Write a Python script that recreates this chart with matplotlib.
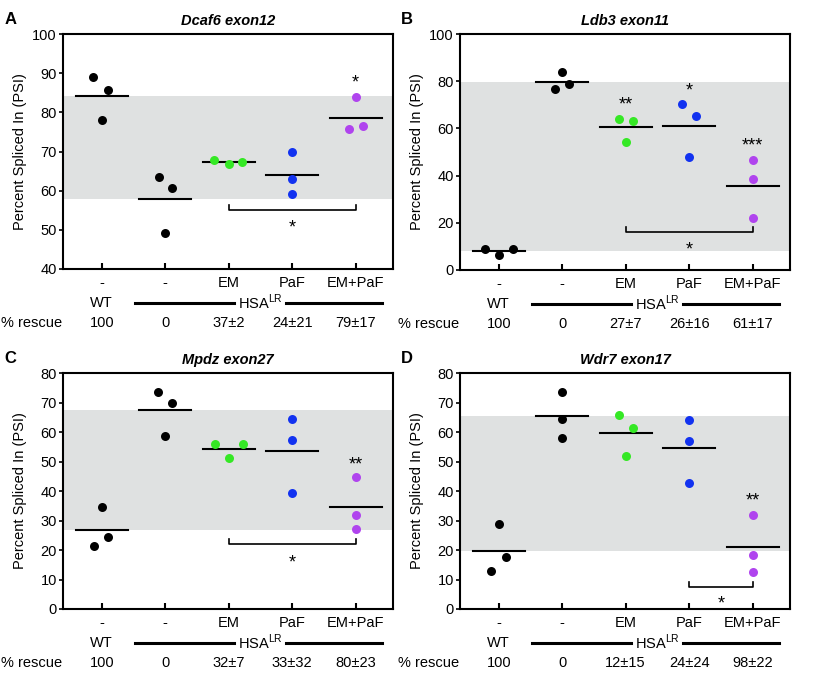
import matplotlib
matplotlib.use("Agg")
import matplotlib.pyplot as plt
import matplotlib.transforms as mtransforms
import numpy as np

plt.rcParams['font.family'] = ['Liberation Sans', 'DejaVu Sans']
plt.rcParams['mathtext.fontset'] = 'custom'
plt.rcParams['mathtext.rm'] = 'Liberation Sans'

# treatment groups on the x axis
groups = ["-", "-", "EM", "PaF", "EM+PaF"]
group_colors = ["black", "black", "#35e825", "#1232f0", "#b044ee"]

# panel A - Dcaf6 exon12
a_title = "Dcaf6 exon12"
a_values = [[89.1, 85.6, 78.1],
            [63.4, 60.7, 49.3],
            [67.9, 66.8, 67.4],
            [70.0, 62.9, 59.2],
            [83.8, 75.7, 76.5]]
a_offsets = [[-0.13, 0.10, 0.0], [-0.10, 0.11, 0.0], [-0.23, 0.0, 0.21],
             [0, 0, 0], [0.0, -0.11, 0.11]]
a_rescue = ["100", "0", "37\u00b12", "24\u00b121", "79\u00b117"]
a_stars = ["", "", "", "", "*"]
a_star_y = [0, 0, 0, 0, 88.5]
a_ylim = (40, 100)
a_yticks = [40, 50, 60, 70, 80, 90, 100]
a_bracket = (3, 5, 55.0, 51.5)

# panel B - Ldb3 exon11
b_title = "Ldb3 exon11"
b_values = [[8.9, 6.2, 8.9],
            [83.7, 76.5, 78.9],
            [64.0, 63.3, 54.4],
            [70.2, 65.3, 47.8],
            [46.7, 38.5, 22.2]]
b_offsets = [[-0.22, 0.0, 0.22], [0.0, -0.11, 0.11], [-0.11, 0.11, 0.0],
             [-0.11, 0.11, 0.0], [0, 0, 0]]
b_rescue = ["100", "0", "27\u00b17", "26\u00b116", "61\u00b117"]
b_stars = ["", "", "**", "*", "***"]
b_star_y = [0, 0, 71.5, 77.5, 54.5]
b_ylim = (0, 100)
b_yticks = [0, 20, 40, 60, 80, 100]
b_bracket = (3, 5, 15.9, 10.3)

# panel C - Mpdz exon27
c_title = "Mpdz exon27"
c_values = [[34.5, 24.3, 21.2],
            [73.7, 69.9, 58.5],
            [55.9, 55.9, 51.1],
            [64.3, 57.4, 39.2],
            [44.9, 31.9, 27.0]]
c_offsets = [[0.0, 0.10, -0.12], [-0.12, 0.11, 0.0], [-0.22, 0.22, 0.0],
             [0, 0, 0], [0, 0, 0]]
c_rescue = ["100", "0", "32\u00b17", "33\u00b132", "80\u00b123"]
c_stars = ["", "", "", "", "**"]
c_star_y = [0, 0, 0, 0, 50.2]
c_ylim = (0, 80)
c_yticks = [0, 10, 20, 30, 40, 50, 60, 70, 80]
c_bracket = (3, 5, 21.9, 17.0)

# panel D - Wdr7 exon17
d_title = "Wdr7 exon17"
d_values = [[28.9, 13.0, 17.5],
            [73.5, 64.3, 58.1],
            [65.7, 61.5, 51.8],
            [64.1, 57.0, 42.7],
            [32.0, 18.2, 12.5]]
d_offsets = [[0.0, -0.12, 0.11], [0, 0, 0], [-0.11, 0.11, 0.0],
             [0, 0, 0], [0, 0, 0]]
d_rescue = ["100", "0", "12\u00b115", "24\u00b124", "98\u00b122"]
d_stars = ["", "", "", "", "**"]
d_star_y = [0, 0, 0, 0, 38.0]
d_ylim = (0, 80)
d_yticks = [0, 10, 20, 30, 40, 50, 60, 70, 80]
d_bracket = (4, 5, 7.4, 3.0)

W, H = 825, 680
fig = plt.figure(figsize=(W / 100, H / 100), dpi=100)


def px_axes(x0, y0, x1, y1):
    return fig.add_axes([x0 / W, 1 - y1 / H, (x1 - x0) / W, (y1 - y0) / H])


def star(ax, x, y, s, trans=None):
    # the asterisk glyph sits high in its box, so shift it down a little
    off = mtransforms.offset_copy(trans or ax.transData, fig=fig,
                                  y=-3, units="points")
    ax.text(x, y, s, ha="center", va="center", fontsize=13, transform=off)


def draw_panel(ax, letter, title, values, offsets, rescue, stars, star_y,
               ylim, yticks, bracket):
    x = np.arange(1, 6)
    means = [np.mean(v) for v in values]
    ax.set_xlim(0.39, 5.59)
    ax.set_ylim(*ylim)
    # grey band between WT mean and untreated HSA mean
    ax.axhspan(min(means[0], means[1]), max(means[0], means[1]),
               color="#dfe1e1", zorder=0, lw=0)
    for i in range(5):
        ax.plot([x[i] - 0.41, x[i] + 0.41], [means[i], means[i]],
                color="black", lw=1.5, zorder=2)
        ax.scatter(x[i] + np.array(offsets[i]), values[i], s=42,
                   color=group_colors[i], zorder=3, linewidths=0)
        if stars[i]:
            star(ax, x[i], star_y[i], stars[i])
    # comparison bracket
    g0, g1, by, sy = bracket
    th = (ylim[1] - ylim[0]) * 0.022
    ax.plot([g0, g0, g1, g1], [by + th, by, by, by + th], color="black",
            lw=1.2, zorder=2)
    star(ax, (g0 + g1) / 2, sy, "*")

    ax.set_yticks(yticks)
    ax.set_xticks(x)
    ax.set_xticklabels([])
    ax.tick_params(axis="y", direction="out", length=3, width=1.2,
                   labelsize=10.5, pad=1.5)
    ax.tick_params(axis="x", direction="in", length=4, width=1.5)
    for s in ax.spines.values():
        s.set_linewidth(1.5)
    ax.set_ylabel("Percent Spliced In (PSI)", fontsize=10.5)
    ax.yaxis.set_label_coords(-0.108, 0.5)

    ax.text(0.5, 1.055, title, transform=ax.transAxes, ha="center",
            va="center", fontsize=10.5, fontweight="bold", style="italic")
    ax.text(-0.16, 1.062, letter, transform=ax.transAxes, ha="center",
            va="center", fontsize=12, fontweight="bold")

    # labels below the axis
    trans = mtransforms.blended_transform_factory(ax.transData, ax.transAxes)
    hgt = ax.get_position().height * H
    r1, r2, r3 = -14 / hgt, -34 / hgt, -54 / hgt
    for i in range(5):
        ax.text(x[i], r1, groups[i], transform=trans, ha="center",
                va="center", fontsize=10.5, clip_on=False)
        ax.text(x[i], r3, rescue[i], transform=trans, ha="center",
                va="center", fontsize=10.5, clip_on=False)
    ax.text(1, r2, "WT", transform=trans, ha="center", va="center",
            fontsize=10.5, clip_on=False)
    ax.text(3.5, r2 + 0.004, r"HSA$^{\mathregular{LR}}$", transform=trans,
            ha="center", va="center", fontsize=10.5, clip_on=False)
    ax.plot([1.52, 3.08], [r2, r2], transform=trans, color="black", lw=2.2,
            clip_on=False)
    ax.plot([3.9, 5.42], [r2, r2], transform=trans, color="black", lw=2.2,
            clip_on=False)
    ax.text(-0.003, r3, "% rescue", transform=ax.transAxes, ha="right",
            va="center", fontsize=10.5, clip_on=False)


axA = px_axes(63, 34, 393, 269)
axB = px_axes(460, 34, 790, 270)
axC = px_axes(63, 373, 393, 609)
axD = px_axes(460, 373, 790, 609)

draw_panel(axA, "A", a_title, a_values, a_offsets, a_rescue, a_stars,
           a_star_y, a_ylim, a_yticks, a_bracket)
draw_panel(axB, "B", b_title, b_values, b_offsets, b_rescue, b_stars,
           b_star_y, b_ylim, b_yticks, b_bracket)
draw_panel(axC, "C", c_title, c_values, c_offsets, c_rescue, c_stars,
           c_star_y, c_ylim, c_yticks, c_bracket)
draw_panel(axD, "D", d_title, d_values, d_offsets, d_rescue, d_stars,
           d_star_y, d_ylim, d_yticks, d_bracket)

fig.savefig("out.png", dpi=100)
